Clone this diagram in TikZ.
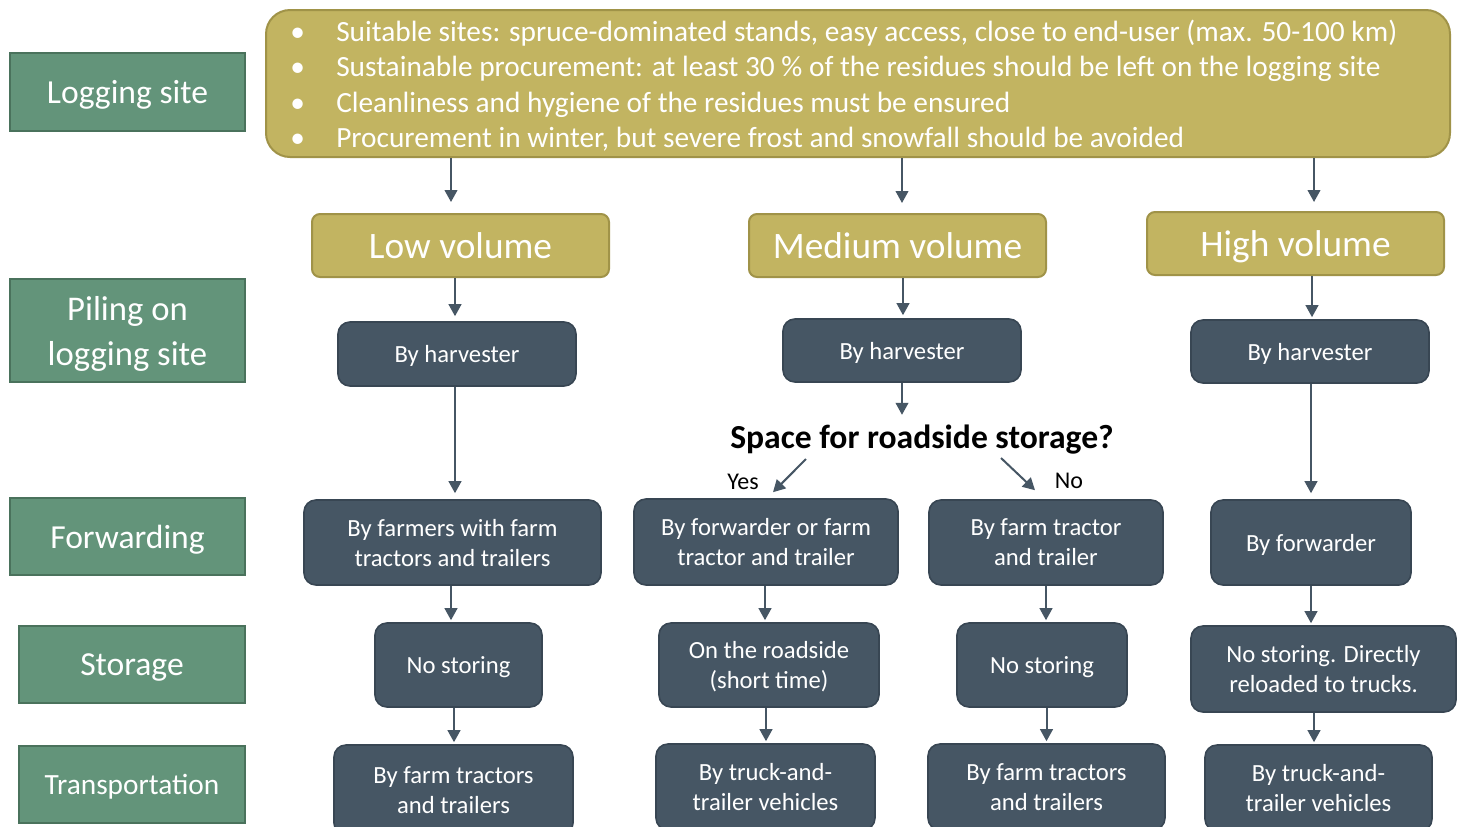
\documentclass[tikz,border=0pt]{standalone}
\usepackage{fontspec}
\setmainfont{Carlito}
\usetikzlibrary{arrows.meta,calc}
\definecolor{gfill}{RGB}{99,148,122}
\definecolor{gline}{RGB}{74,114,92}
\definecolor{yfill}{RGB}{194,180,97}
\definecolor{yline}{RGB}{160,147,72}
\definecolor{dfill}{RGB}{70,86,100}
\definecolor{dline}{RGB}{56,70,83}
\definecolor{arrowc}{RGB}{70,86,100}
\tikzset{
  sz/.style 2 args={minimum width=#1*0.75pt, minimum height=#2*0.75pt},
  fs/.style 2 args={font=\fontsize{#1}{#2}\selectfont},
  glabel/.style={draw=gline, fill=gfill, line width=1.5pt, text=white, align=center, inner sep=0pt, text depth=0pt},
  ybox/.style={draw=yline, fill=yfill, line width=1.5pt, text=white, align=center, inner sep=0pt, rounded corners=6pt, text depth=0pt},
  dbox/.style={draw=dline, fill=dfill, line width=1.2pt, text=white, align=center, inner sep=0pt, rounded corners=9pt, fs={18.5}{22.5}, text depth=0pt},
  plain/.style={inner sep=0pt, text depth=0pt},
  bul/.style={anchor=base west, text=white, inner sep=0pt, fs={22}{26}},
  arr/.style={draw=arrowc, line width=1.5pt, -{Triangle[length=9pt,width=9.5pt]}},
}
\begin{document}
\begin{tikzpicture}[x=0.75pt,y=-0.75pt]
\useasboundingbox (0,0) rectangle (1464,826);
\clip (0,0) rectangle (1464,826);
\fill[white] (0,0) rectangle (1464,826);

% left labels
\node[glabel, sz={235}{78}, fs={25.2}{30}] (L1) at (127.5,92) {Logging site};
\node[glabel, sz={235}{103}, fs={26}{33.75}] (L2) at (127.5,330.5) {Piling on\\logging site};
\node[glabel, sz={235}{77}, fs={25.2}{30}] (L3) at (127.5,536.5) {Forwarding};
\node[glabel, sz={226}{77}, fs={25.2}{30}] (L4) at (132,664.5) {Storage};
\node[glabel, sz={226}{77}, fs={22}{26}] (L5) at (132,784) {Transportation};

% top box
\node[ybox, rounded corners=18pt, sz={1184}{147}] (top) at (858,83.5) {};
\node[bul] (b1) at (290,41) {\makebox[34.5pt][l]{•}Suitable sites: spruce-dominated stands, easy access, close to end-user (max. 50-100 km)};
\node[bul] (b2) at (290,76.5) {\makebox[34.5pt][l]{•}Sustainable procurement: at least 30 \% of the residues should be left on the logging site};
\node[bul] (b3) at (290,112) {\makebox[34.5pt][l]{•}Cleanliness and hygiene of the residues must be ensured};
\node[bul] (b4) at (290,147.5) {\makebox[34.5pt][l]{•}Procurement in winter, but severe frost and snowfall should be avoided};

% volume boxes
\node[ybox, sz={297}{63}, fs={28}{34}] (lowv) at (460.5,245.5) {Low volume};
\node[ybox, sz={297}{63}, fs={28}{34}] (medv) at (897.5,245.5) {Medium volume};
\node[ybox, sz={297}{63}, fs={28}{34}] (highv) at (1295.5,243.5) {High volume};

% harvester row
\node[dbox, sz={238}{64}] (h1) at (457,354) {By harvester};
\node[dbox, sz={238}{63}] (h2) at (902,350.5) {By harvester};
\node[dbox, sz={238}{63}] (h3) at (1310,351.5) {By harvester};

% question
\node[plain, font=\bfseries\fontsize{25.2}{30}\selectfont] (q) at (922,437) {Space for roadside storage?};
\node[plain, fs={18}{22}] (yes) at (743,482) {Yes};
\node[plain, fs={18}{22}] (no) at (1069,481) {No};

% forwarding row
\node[dbox, sz={297}{85}] (f1) at (452.5,542.5) {By farmers with farm\\tractors and trailers};
\node[dbox, sz={264}{86}] (f2) at (766,542) {By forwarder or farm\\tractor and trailer};
\node[dbox, sz={234}{85}] (f3) at (1046,542.5) {By farm tractor\\and trailer};
\node[dbox, sz={200}{85}] (f4) at (1311,542.5) {By forwarder};

% storage row
\node[dbox, sz={167}{84}] (s1) at (458.5,665) {No storing};
\node[dbox, sz={220}{84}] (s2) at (769,665) {On the roadside\\(short time)};
\node[dbox, sz={170}{84}] (s3) at (1042,665) {No storing};
\node[dbox, sz={265}{86}] (s4) at (1323.5,669) {No storing. Directly\\reloaded to trucks.};

% transportation row
\node[dbox, sz={239}{90}] (t1) at (453.5,790) {By farm tractors\\and trailers};
\node[dbox, sz={219}{86}] (t2) at (765.5,787) {By truck-and-\\trailer vehicles};
\node[dbox, sz={237}{86}] (t3) at (1046.5,787) {By farm tractors\\and trailers};
\node[dbox, sz={227}{86}] (t4) at (1318.5,788) {By truck-and-\\trailer vehicles};

% arrow end points
\coordinate (e1) at ($(lowv.north)+(-9.5,-11)$);
\coordinate (e2) at ($(medv.north)+(4.5,-10)$);
\coordinate (e3) at ($(highv.north)+(18.5,-9)$);
\coordinate (e4) at ($(h1.north)+(-2,-5)$);
\coordinate (e5) at ($(h2.north)+(1,-3)$);
\coordinate (e6) at ($(h3.north)+(2,-2)$);
\coordinate (e7) at ($(f1.north)+(2.5,-6)$);
\coordinate (e8) at ($(h2.south)+(0,32)$);
\coordinate (e11) at ($(f4.north)+(0,-6)$);
\coordinate (e12) at ($(s1.north)+(-7.5,-2)$);
\coordinate (e13) at ($(s2.north)+(-4,-2)$);
\coordinate (e14) at ($(s3.north)+(4,-2)$);
\coordinate (e15) at ($(s4.north)+(-12.5,-2)$);
\coordinate (e16) at ($(t1.north)+(0.5,-2)$);
\coordinate (e17) at ($(t2.north)+(0.5,-2)$);
\coordinate (e18) at ($(t3.north)+(0,-2)$);
\coordinate (e19) at ($(t4.north)+(-4.5,-2)$);
\coordinate (ys) at ($(q)+(-116,22)$);
\coordinate (ye) at ($(f2.north)+(7,-6)$);
\coordinate (ns) at ($(q)+(79,21)$);
\coordinate (ne) at ($(f3.north)+(-11,-9)$);

\draw[arr] (e1 |- top.south) -- (e1);
\draw[arr] (e2 |- top.south) -- (e2);
\draw[arr] (e3 |- top.south) -- (e3);
\draw[arr] (e4 |- lowv.south) -- (e4);
\draw[arr] (e5 |- medv.south) -- (e5);
\draw[arr] (e6 |- highv.south) -- (e6);
\draw[arr] (e7 |- h1.south) -- (e7);
\draw[arr] (e8 |- h2.south) -- (e8);
\draw[arr] (ys) -- (ye);
\draw[arr] (ns) -- (ne);
\draw[arr] (e11 |- h3.south) -- (e11);
\draw[arr] (e12 |- f1.south) -- (e12);
\draw[arr] (e13 |- f2.south) -- (e13);
\draw[arr] (e14 |- f3.south) -- (e14);
\draw[arr] (e15 |- f4.south) -- (e15);
\draw[arr] (e16 |- s1.south) -- (e16);
\draw[arr] (e17 |- s2.south) -- (e17);
\draw[arr] (e18 |- s3.south) -- (e18);
\draw[arr] (e19 |- s4.south) -- (e19);
\end{tikzpicture}
\end{document}
